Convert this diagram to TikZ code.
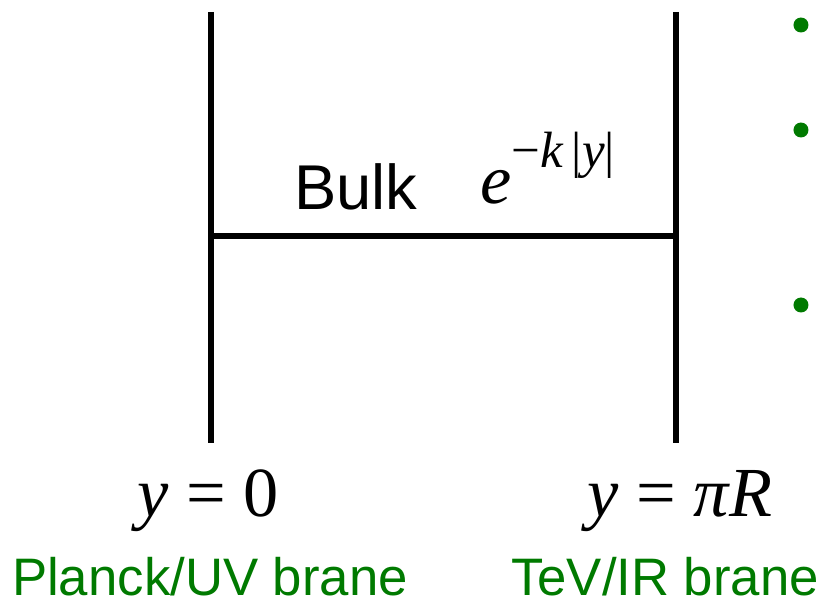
\documentclass[tikz,border=0pt]{standalone}
\usepackage{fontspec}
\setmainfont{Liberation Sans}
\newfontfamily\tms{Liberation Serif}
\usetikzlibrary{positioning,calc}
\definecolor{branegreen}{RGB}{0,122,0}

\begin{document}
\begin{tikzpicture}[x=0.01cm, y=-0.01cm,
		every node/.style={inner sep=0pt, anchor=base},
		wall/.style={line width=1.5pt, black},
		bulktxt/.style={font=\fontsize{18}{20}\selectfont},
		postxt/.style={font=\fontsize{20}{22}\selectfont\tms},
		branetxt/.style={font=\fontsize{15}{17}\selectfont, text=branegreen}]
			\useasboundingbox (0,0) rectangle (829,603);
			% the two branes and the bulk between them
			\coordinate (uvtop) at (211,12);
			\coordinate (uvbot) at (211,443);
			\coordinate (irtop) at (676,12);
			\coordinate (irbot) at (676,443);
			\coordinate (uvmid) at (211,236);
			\coordinate (irmid) at (676,236);
			\draw[wall] (uvtop) -- (uvbot);
			\draw[wall] (irtop) -- (irbot);
			\draw[wall] (uvmid) -- (irmid);
			\node[bulktxt] (bulk) at (356,210) {Bulk};
			\node[postxt, anchor=base west] (warp) at (480,204) {\itshape e\raisebox{0.52em}{\fontsize{14.5}{15}\selectfont\upshape −\itshape k\,\upshape|\itshape y\upshape|}};
			\node[postxt] (uvpos) at (208,517) {\itshape y\upshape{} = 0};
			\node[postxt] (irpos) at (680,517) {\itshape y\upshape{} = \itshape πR};
			\node[branetxt] (uvname) at (210,596) {Planck/UV brane};
			\node[branetxt] (irname) at (665,596) {TeV/IR brane};
			% bullets of the text beside the picture
			\foreach \yb [count=\i] in {25,130,305} {
				\fill[branegreen] (801,\yb) circle (7.5) coordinate (dot\i);
			}
		\end{tikzpicture}
\end{document}
